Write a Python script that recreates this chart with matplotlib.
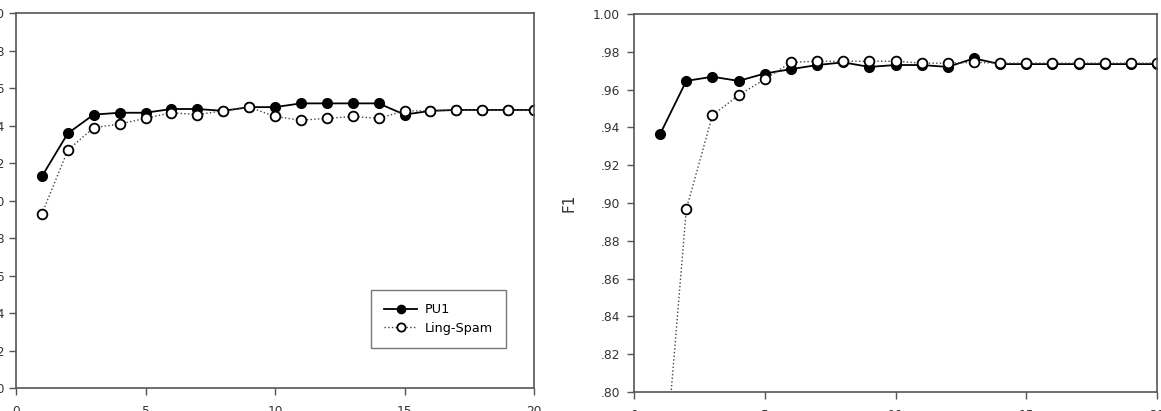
import matplotlib
matplotlib.use("Agg")
import matplotlib.pyplot as plt
from matplotlib.ticker import FuncFormatter

x = list(range(1, 21))

# Left panel
left_pu1 = [0.913, 0.936, 0.946, 0.947, 0.947, 0.949, 0.949, 0.948, 0.950, 0.950,
            0.952, 0.952, 0.952, 0.952, 0.946, 0.948, 0.9485, 0.9485, 0.9485, 0.9485]
left_ling = [0.893, 0.927, 0.939, 0.941, 0.944, 0.947, 0.946, 0.948, 0.950, 0.945,
             0.943, 0.944, 0.945, 0.944, 0.948, 0.948, 0.9485, 0.9485, 0.9485, 0.9485]

# Right panel (F1)
right_pu1 = [0.9365, 0.9646, 0.9668, 0.9646, 0.9685, 0.9708, 0.973, 0.9744, 0.972, 0.973,
             0.973, 0.972, 0.9765, 0.9735, 0.9735, 0.9735, 0.9735, 0.9735, 0.9735, 0.9735]
right_ling = [0.73, 0.8967, 0.9464, 0.957, 0.9655, 0.9744, 0.975, 0.975, 0.975, 0.975,
              0.974, 0.974, 0.9744, 0.974, 0.974, 0.974, 0.974, 0.974, 0.974, 0.974]

xticks = [0, 5, 10, 15, 20]
yticks = [0.80, 0.82, 0.84, 0.86, 0.88, 0.90, 0.92, 0.94, 0.96, 0.98, 1.00]
series_labels = ["PU1", "Ling-Spam"]

plt.rcParams['font.family'] = ['DejaVu Sans']

W, H = 1161, 411
fig = plt.figure(figsize=(W / 100, H / 100), dpi=100)

def fmt(v, pos):
    s = "%.2f" % v
    if s.startswith("0"):
        s = s[1:]
    return s

spine_col = "#555555"

def make_axes(rect, ypad):
    ax = fig.add_axes(rect)
    for sp in ax.spines.values():
        sp.set_color(spine_col)
        sp.set_linewidth(1.2)
    ax.set_xlim(0, 20)
    ax.set_ylim(0.80, 1.00)
    ax.set_xticks(xticks)
    ax.set_yticks(yticks)
    ax.yaxis.set_major_formatter(FuncFormatter(fmt))
    ax.tick_params(direction="out", length=5, width=1, color=spine_col,
                   labelsize=8.8, labelcolor="#333333")
    ax.tick_params(axis="x", pad=7)
    ax.tick_params(axis="y", pad=ypad)
    return ax

def draw(ax, pu1, ling):
    ax.plot(x, ling, linestyle=":", color="#444444", linewidth=1.0,
            marker="o", markersize=7, markerfacecolor="white",
            markeredgecolor="black", markeredgewidth=1.3, label=series_labels[1],
            zorder=2)
    ax.plot(x, pu1, linestyle="-", color="black", linewidth=1.3,
            marker="o", markersize=7, markerfacecolor="black",
            markeredgecolor="black", label=series_labels[0], zorder=1)

ax1 = make_axes([16 / W, 1 - 388 / H, (534 - 16) / W, (388 - 13.5) / H], ypad=3)
draw(ax1, left_pu1, left_ling)
handles, labels = ax1.get_legend_handles_labels()
leg = ax1.legend(handles[::-1], labels[::-1], loc="lower right",
                 bbox_to_anchor=(0.9455, 0.108), fontsize=9.2, frameon=True,
                 fancybox=False, edgecolor="#555555", handlelength=2.6,
                 handletextpad=0.6, borderpad=1.0, labelspacing=0.45,
                 borderaxespad=0, markerscale=0.85)
leg.get_frame().set_linewidth(1.0)

ax2 = make_axes([634 / W, 1 - 392 / H, (1157 - 634) / W, (392 - 14) / H], ypad=5)
draw(ax2, right_pu1, right_ling)
ax2.set_ylabel("F1", fontsize=11, labelpad=12, color="#333333")

fig.savefig("out.png", dpi=100)
